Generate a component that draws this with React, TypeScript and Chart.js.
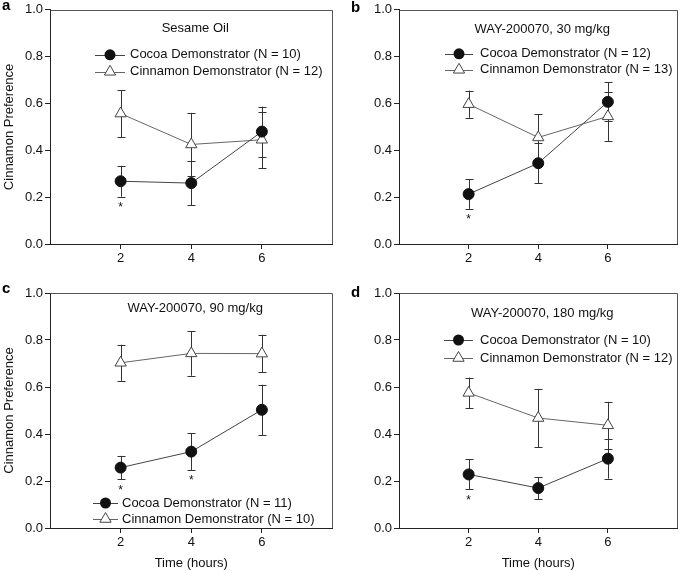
import React, { useEffect, useRef } from 'react';
import { Chart, registerables } from 'chart.js';

Chart.register(...registerables);

// ---------- data ----------
const times = [2, 4, 6];
const xTicks = [2, 4, 6];
const yTicks = [0, 0.2, 0.4, 0.6, 0.8, 1.0];
const panelLetters = ['a', 'b', 'c', 'd'];
const panelTitles = ['Sesame Oil', 'WAY-200070, 30 mg/kg', 'WAY-200070, 90 mg/kg', 'WAY-200070, 180 mg/kg'];
const cocoaN = [10, 12, 11, 10];
const cinnamonN = [12, 13, 10, 12];

const cocoaA = [0.268, 0.26, 0.48];
const cocoaErrA = [0.066, 0.095, 0.107];
const cinnA = [0.557, 0.425, 0.445];
const cinnErrA = [0.1, 0.135, 0.12];
const sigA = [true, false, false];

const cocoaB = [0.213, 0.345, 0.607];
const cocoaErrB = [0.063, 0.085, 0.083];
const cinnB = [0.597, 0.455, 0.545];
const cinnErrB = [0.058, 0.1, 0.105];
const sigB = [true, false, false];

const cocoaC = [0.257, 0.325, 0.503];
const cocoaErrC = [0.05, 0.078, 0.107];
const cinnC = [0.703, 0.743, 0.742];
const cinnErrC = [0.077, 0.095, 0.08];
const sigC = [true, true, false];

const cocoaD = [0.228, 0.17, 0.295];
const cocoaErrD = [0.064, 0.047, 0.085];
const cinnD = [0.575, 0.468, 0.437];
const cinnErrD = [0.065, 0.124, 0.1];
const sigD = [true, false, false];

const cocoaVals = [cocoaA, cocoaB, cocoaC, cocoaD];
const cocoaErrs = [cocoaErrA, cocoaErrB, cocoaErrC, cocoaErrD];
const cinnVals = [cinnA, cinnB, cinnC, cinnD];
const cinnErrs = [cinnErrA, cinnErrB, cinnErrC, cinnErrD];
const sigs = [sigA, sigB, sigC, sigD];

// ---------- layout ----------
const FONT = '"Liberation Sans", Arial, Helvetica, sans-serif';

type Layout = {
  left: number; top: number; w: number; h: number;
  yAxisW: number; padRight: number; padTop: number; xAxisH: number;
  yTitle: boolean; xTitle: boolean; titleDy: number;
  legLine0: number; legLine1: number; legText: number; legY1: number; legY2: number;
  letterX: number; letterY: number;
};

const layouts: Layout[] = [
  { left: 0, top: 0, w: 340, h: 280, yAxisW: 50, padRight: 7, padTop: 8, xAxisH: 36, yTitle: true, xTitle: false, titleDy: 19,
    legLine0: 45, legLine1: 75, legText: 80, legY1: 45, legY2: 62, letterX: 2, letterY: 10 },
  { left: 340, top: 0, w: 345, h: 280, yAxisW: 59, padRight: 2, padTop: 8, xAxisH: 36, yTitle: false, xTitle: false, titleDy: 20,
    legLine0: 46, legLine1: 74, legText: 81, legY1: 44, legY2: 60, letterX: 11, letterY: 12 },
  { left: 0, top: 280, w: 340, h: 291, yAxisW: 50, padRight: 7, padTop: 13, xAxisH: 43, yTitle: true, xTitle: true, titleDy: 15,
    legLine0: 43, legLine1: 68, legText: 72, legY1: 210, legY2: 226, letterX: 2, letterY: 13 },
  { left: 340, top: 280, w: 345, h: 291, yAxisW: 59, padRight: 2, padTop: 13, xAxisH: 43, yTitle: false, xTitle: true, titleDy: 20,
    legLine0: 45, legLine1: 74, legText: 81, legY1: 47, legY2: 65, letterX: 11, letterY: 17 },
];

function trianglePath(ctx: CanvasRenderingContext2D, x: number, y: number, r: number) {
  ctx.beginPath();
  for (let k = 0; k < 3; k++) {
    const a = (k * 2 * Math.PI) / 3;
    const px = x + Math.sin(a) * r;
    const py = y - Math.cos(a) * r;
    if (k === 0) ctx.moveTo(px, py); else ctx.lineTo(px, py);
  }
  ctx.closePath();
}

function Panel({ idx }: { idx: number }) {
  const ref = useRef<HTMLCanvasElement | null>(null);
  const L = layouts[idx];

  useEffect(() => {
    if (!ref.current) return;
    const ctx0 = ref.current.getContext('2d')!;

    const extras = {
      id: 'extras',
      beforeDatasetsDraw(chart: any) {
        const ctx = chart.ctx as CanvasRenderingContext2D;
        const ys = chart.scales.y;
        const ca = chart.chartArea;
        // frame top & right
        ctx.save();
        ctx.strokeStyle = '#555';
        ctx.lineWidth = 1;
        ctx.beginPath();
        ctx.moveTo(Math.round(ca.left) + 0.5, Math.round(ca.top) + 0.5);
        ctx.lineTo(Math.round(ca.right) - 0.5, Math.round(ca.top) + 0.5);
        ctx.lineTo(Math.round(ca.right) - 0.5, Math.round(ca.bottom));
        ctx.stroke();
        // error bars
        chart.data.datasets.forEach((ds: any, di: number) => {
          const meta = chart.getDatasetMeta(di);
          meta.data.forEach((pt: any, i: number) => {
            const v = ds.data[i].y;
            const e = ds.errors[i];
            const x = Math.round(pt.x) + 0.5;
            const yt = ys.getPixelForValue(v + e);
            const yb = ys.getPixelForValue(v - e);
            ctx.strokeStyle = '#333';
            ctx.beginPath();
            ctx.moveTo(x, yt); ctx.lineTo(x, yb);
            ctx.moveTo(x - 4, Math.round(yt) + 0.5); ctx.lineTo(x + 4, Math.round(yt) + 0.5);
            ctx.moveTo(x - 4, Math.round(yb) + 0.5); ctx.lineTo(x + 4, Math.round(yb) + 0.5);
            ctx.stroke();
            if (ds.sig && ds.sig[i]) {
              ctx.fillStyle = '#111';
              ctx.font = `12px ${FONT}`;
              ctx.textAlign = 'center';
              ctx.textBaseline = 'top';
              ctx.fillText('*', pt.x, yb + 5);
            }
          });
        });
        ctx.restore();
      },
      afterDraw(chart: any) {
        const ctx = chart.ctx as CanvasRenderingContext2D;
        const ca = chart.chartArea;
        ctx.save();
        // title
        ctx.fillStyle = '#111';
        ctx.font = `13px ${FONT}`;
        ctx.textAlign = 'center';
        ctx.textBaseline = 'middle';
        ctx.fillText(panelTitles[idx], (ca.left + ca.right) / 2 + 4, ca.top + L.titleDy);
        // legend
        const entries = [
          { label: `Cocoa Demonstrator (N = ${cocoaN[idx]})`, y: ca.top + L.legY1, tri: false },
          { label: `Cinnamon Demonstrator (N = ${cinnamonN[idx]})`, y: ca.top + L.legY2, tri: true },
        ];
        entries.forEach((en) => {
          const x0 = ca.left + L.legLine0;
          const x1 = ca.left + L.legLine1;
          const xm = (x0 + x1) / 2;
          ctx.strokeStyle = en.tri ? '#666' : '#444';
          ctx.lineWidth = 1;
          ctx.beginPath();
          ctx.moveTo(x0, Math.round(en.y) + 0.5);
          ctx.lineTo(x1, Math.round(en.y) + 0.5);
          ctx.stroke();
          if (en.tri) {
            trianglePath(ctx, xm, en.y, 6.5);
            ctx.fillStyle = '#fff';
            ctx.fill();
            ctx.strokeStyle = '#444';
            ctx.stroke();
          } else {
            ctx.beginPath();
            ctx.arc(xm, en.y, 5.5, 0, Math.PI * 2);
            ctx.fillStyle = '#111';
            ctx.fill();
          }
          ctx.fillStyle = '#111';
          ctx.font = `13px ${FONT}`;
          ctx.textAlign = 'left';
          ctx.textBaseline = 'middle';
          ctx.fillText(en.label, ca.left + L.legText, en.y);
        });
        // panel letter
        ctx.font = `bold 15px ${FONT}`;
        ctx.textAlign = 'left';
        ctx.textBaseline = 'alphabetic';
        ctx.fillStyle = '#000';
        ctx.fillText(panelLetters[idx], L.letterX, L.letterY);
        ctx.restore();
      },
    };

    const chart = new Chart(ctx0, {
      type: 'scatter',
      data: {
        datasets: [
          {
            label: 'Cocoa',
            data: times.map((t, i) => ({ x: t, y: cocoaVals[idx][i] })),
            errors: cocoaErrs[idx],
            sig: sigs[idx],
            showLine: true,
            borderColor: '#444',
            borderWidth: 1,
            pointStyle: 'circle',
            pointRadius: 5.5,
            pointBackgroundColor: '#111',
            pointBorderColor: '#111',
            pointBorderWidth: 1,
          } as any,
          {
            label: 'Cinnamon',
            data: times.map((t, i) => ({ x: t, y: cinnVals[idx][i] })),
            errors: cinnErrs[idx],
            showLine: true,
            borderColor: '#666',
            borderWidth: 1,
            pointStyle: 'triangle',
            pointRadius: 6.5,
            pointBackgroundColor: '#fff',
            pointBorderColor: '#444',
            pointBorderWidth: 1,
          } as any,
        ],
      },
      options: {
        animation: false,
        responsive: false,
        devicePixelRatio: 1,
        events: [],
        layout: { padding: { left: 0, top: L.padTop, right: L.padRight, bottom: 0 } },
        plugins: { legend: { display: false }, tooltip: { enabled: false }, title: { display: false } },
        scales: {
          x: {
            type: 'linear',
            min: 0,
            max: 8,
            afterBuildTicks: (s: any) => { s.ticks = xTicks.map((v) => ({ value: v })); },
            afterFit: (s: any) => { s.height = L.xAxisH; },
            ticks: { color: '#111', font: { size: 13, family: FONT }, padding: 2, callback: (v: any) => String(v) },
            grid: { drawOnChartArea: false, drawTicks: true, tickLength: 5, color: '#222' },
            border: { display: true, color: '#222' },
            title: { display: L.xTitle, text: 'Time (hours)', color: '#111', font: { size: 13, family: FONT }, padding: { top: 0, bottom: 0 } },
          },
          y: {
            type: 'linear',
            min: 0,
            max: 1,
            afterBuildTicks: (s: any) => { s.ticks = yTicks.map((v) => ({ value: v })); },
            afterFit: (s: any) => { s.width = L.yAxisW; },
            ticks: { color: '#111', font: { size: 13, family: FONT }, padding: 2, callback: (v: any) => Number(v).toFixed(1) },
            grid: { drawOnChartArea: false, drawTicks: true, tickLength: 5, color: '#222' },
            border: { display: true, color: '#222' },
            title: { display: L.yTitle, text: 'Cinnamon Preference', color: '#111', font: { size: 13, family: FONT }, padding: { top: 2, bottom: 0 } },
          },
        },
      },
      plugins: [extras],
    } as any);
    return () => chart.destroy();
  }, [idx]);

  return (
    <canvas
      ref={ref}
      width={L.w}
      height={L.h}
      style={{ position: 'absolute', left: L.left, top: L.top, width: L.w, height: L.h }}
    />
  );
}

export default function App() {
  return (
    <div style={{ position: 'absolute', left: 0, top: 0, width: 685, height: 571, background: '#fff', overflow: 'hidden' }}>
      {layouts.map((_, i) => (
        <Panel key={i} idx={i} />
      ))}
    </div>
  );
}
